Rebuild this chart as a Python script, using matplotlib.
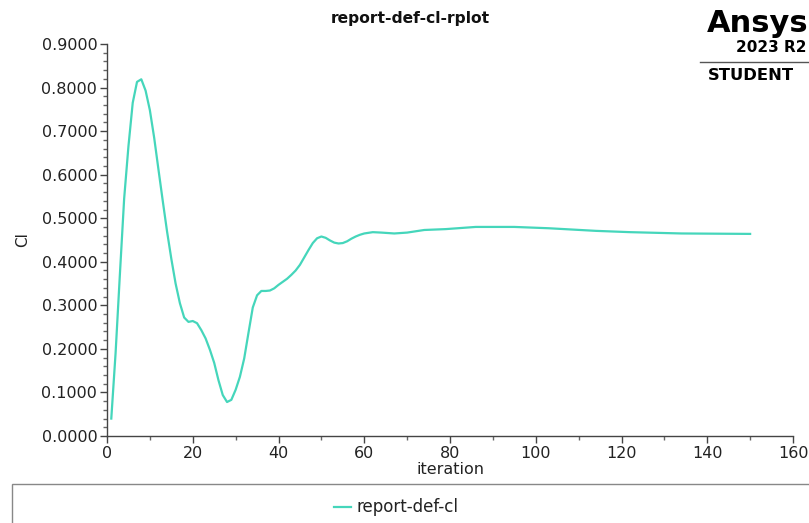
import matplotlib
matplotlib.use("Agg")
import matplotlib.pyplot as plt
from matplotlib.ticker import MultipleLocator, FormatStrFormatter
from matplotlib.lines import Line2D
from matplotlib.patches import Rectangle

iterations = [1, 2, 3, 4, 5, 6, 7, 8, 9, 10, 11, 12, 13, 14, 15, 16, 17, 18, 19, 20,
              21, 22, 23, 24, 25, 26, 27, 28, 29, 30, 31, 32, 33, 34, 35, 36, 37, 38, 39, 40,
              41, 42, 43, 44, 45, 46, 47, 48, 49, 50, 51, 52, 53, 54, 55, 56, 57, 58, 59, 60,
              62, 64, 67, 70, 74, 79, 86, 95, 103, 114, 122, 134, 150]
cl_values = [0.040, 0.190, 0.370, 0.545, 0.665, 0.765, 0.813, 0.819, 0.793, 0.748,
             0.685, 0.612, 0.540, 0.470, 0.407, 0.350, 0.305, 0.272, 0.262, 0.264,
             0.259, 0.243, 0.224, 0.198, 0.168, 0.128, 0.094, 0.078, 0.083, 0.106,
             0.136, 0.178, 0.237, 0.295, 0.323, 0.333, 0.333, 0.334, 0.339, 0.347,
             0.354, 0.361, 0.370, 0.380, 0.393, 0.410, 0.427, 0.443, 0.454, 0.458,
             0.455, 0.449, 0.444, 0.442, 0.443, 0.447, 0.453, 0.458, 0.462, 0.465,
             0.468, 0.467, 0.465, 0.467, 0.473, 0.475, 0.480, 0.480, 0.477, 0.471,
             0.468, 0.465, 0.464]

series_label = "report-def-cl"
title = "report-def-cl-rplot"
x_label = "iteration"
y_label = "Cl"

plt.rcParams['font.family'] = ['DejaVu Sans']

fig = plt.figure(figsize=(8.09, 5.23), dpi=100)
W, H = 809, 523
ax = fig.add_axes([107 / W, 1 - 436 / H, (793 - 107) / W, (436 - 44) / H])

line_color = "#45d6bb"
ax.plot(iterations, cl_values, color=line_color, lw=1.6)

ax.set_xlim(0, 160)
ax.set_ylim(0, 0.9)
ax.xaxis.set_major_locator(MultipleLocator(20))
ax.xaxis.set_minor_locator(MultipleLocator(10))
ax.yaxis.set_major_locator(MultipleLocator(0.1))
ax.yaxis.set_minor_locator(MultipleLocator(0.02))
ax.yaxis.set_major_formatter(FormatStrFormatter('%.4f'))

for s in ['top', 'right']:
    ax.spines[s].set_visible(False)
for s in ['left', 'bottom']:
    ax.spines[s].set_color('#444444')
    ax.spines[s].set_linewidth(1.0)

ax.tick_params(axis='both', which='major', length=5, width=1, color='#444444',
               labelsize=11.5, labelcolor='#222222', pad=2)
ax.tick_params(axis='both', which='minor', length=3, width=1, color='#666666')

ax.set_xlabel(x_label, fontsize=11.5, color='#222222', labelpad=1)
ax.set_ylabel(y_label, fontsize=11, color='#222222', labelpad=8)

fig.text(410 / W, 1 - 18 / H, title, ha='center', va='center', fontsize=11.2,
         fontweight='bold', color='#111111')

# Ansys logo text
fig.text(808 / W, 1 - 24 / H, "Ansys", ha='right', va='center', fontsize=22,
         fontweight='bold', color='#000000')
fig.text(806 / W, 1 - 48 / H, "2023 R2", ha='right', va='center', fontsize=11,
         fontweight='bold', color='#000000')
fig.add_artist(Line2D([700 / W, 1.0], [1 - 62 / H, 1 - 62 / H], color='#555555', lw=1.0))
fig.text(708 / W, 1 - 75 / H, "STUDENT", ha='left', va='center', fontsize=11.8,
         fontweight='bold', color='#000000')

# Legend box
fig.add_artist(Rectangle((12 / W, -0.05), 1.0, (1 - 484 / H) + 0.05,
                         transform=fig.transFigure, fill=False,
                         edgecolor='#888888', lw=1.0))
fig.add_artist(Line2D([334 / W, 351 / W], [1 - 507 / H, 1 - 507 / H],
                      color=line_color, lw=1.6))
fig.text(356 / W, 1 - 507 / H, series_label, ha='left', va='center', fontsize=12,
         color='#222222')

fig.savefig("out.png", dpi=100)
